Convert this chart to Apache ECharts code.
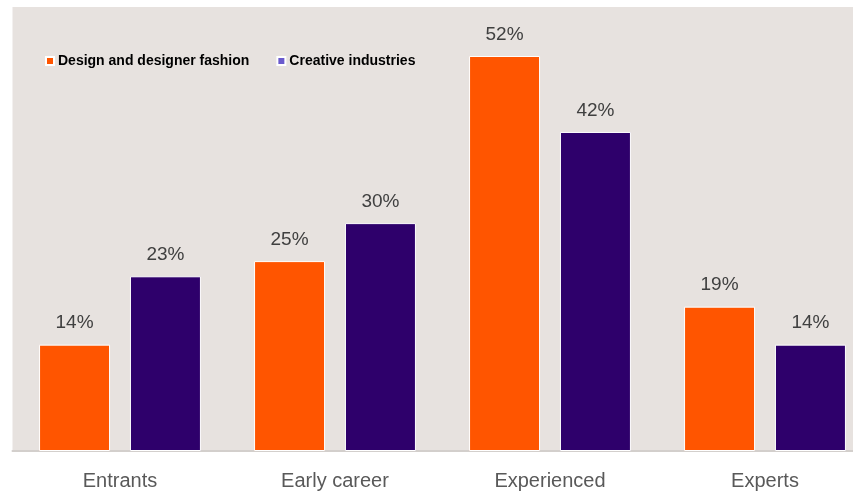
<!DOCTYPE html>
<html>
<head>
<meta charset="utf-8">
<script src="https://cdn.jsdelivr.net/npm/echarts@6/dist/echarts.min.js"></script>
<style>
  html, body { margin: 0; padding: 0; background: #ffffff; }
  #chart { width: 853px; height: 494px; }
</style>
</head>
<body>
<div id="chart"></div>
<script>
// Career stage shares, two sectors
const categories = ['Entrants', 'Early career', 'Experienced', 'Experts'];
const seriesNames = ['Design and designer fashion', 'Creative industries'];
const designFashion = [14, 25, 52, 19];
const creativeIndustries = [23, 30, 42, 14];

const barColors = ['#ff5500', '#2e006b'];
const legendColors = ['#ff5500', '#6a5acd'];

const chart = echarts.init(document.getElementById('chart'), null, { renderer: 'canvas' });

const labelStyle = {
  show: true,
  position: 'top',
  distance: 12,
  formatter: p => p.value + '%',
  fontFamily: 'Liberation Sans',
  fontSize: 19,
  color: '#404040'
};

chart.setOption({
  animation: false,
  backgroundColor: '#ffffff',
  legend: {
    left: 40,
    top: 49,
    itemWidth: 8,
    itemHeight: 8,
    itemGap: 27,
    icon: 'rect',
    textStyle: { fontFamily: 'Liberation Sans', fontWeight: 'bold', fontSize: 14, color: '#000000', padding: [0, 0, 0, -1] },
    data: seriesNames.map((n, i) => ({ name: n, itemStyle: { color: legendColors[i] } }))
  },
  grid: {
    left: 12.5,
    top: 7,
    width: 860,
    bottom: 43,
    outerBoundsMode: 'none',
    show: true,
    backgroundColor: '#e7e2df',
    borderWidth: 0
  },
  xAxis: {
    type: 'category',
    data: categories,
    axisTick: { show: false },
    axisLine: { show: true, lineStyle: { color: '#d3cfcc', width: 2 } },
    axisLabel: { fontFamily: 'Liberation Sans', fontSize: 20, color: '#595959', margin: 20 }
  },
  yAxis: {
    type: 'value',
    min: 0,
    max: 58.45,
    show: false,
    splitLine: { show: false }
  },
  series: [
    {
      name: seriesNames[0],
      type: 'bar',
      data: designFashion,
      barWidth: 71,
      barGap: '28%',
      itemStyle: { color: barColors[0], borderColor: '#ffffff', borderWidth: 1 },
      label: labelStyle
    },
    {
      name: seriesNames[1],
      type: 'bar',
      data: creativeIndustries,
      barWidth: 71,
      barGap: '28%',
      itemStyle: { color: barColors[1], borderColor: '#ffffff', borderWidth: 1 },
      label: labelStyle
    }
  ]
});
</script>
</body>
</html>
